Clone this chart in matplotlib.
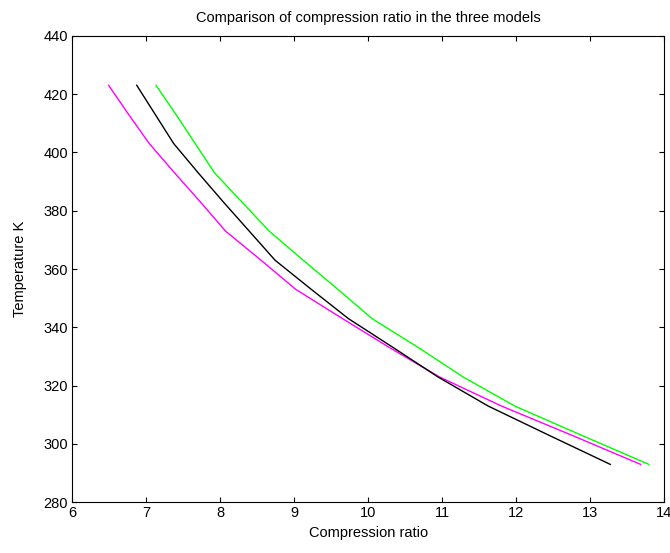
import matplotlib
matplotlib.use("Agg")
import matplotlib.pyplot as plt
import numpy as np

plt.rcParams['font.family'] = ['Liberation Sans', 'DejaVu Sans']

# temperature levels (K) and compression ratio for each model
temp = [423, 413, 403, 393, 383, 373, 363, 353, 343, 333, 323, 313, 303, 293]
cr_magenta = [6.49, 6.76, 7.04, 7.38, 7.73, 8.07, 8.55, 9.02, 9.65, 10.29, 10.96, 11.80, 12.75, 13.68]
cr_black = [6.87, 7.12, 7.37, 7.70, 8.04, 8.39, 8.74, 9.23, 9.73, 10.34, 10.94, 11.62, 12.44, 13.27]
cr_green = [7.13, 7.40, 7.66, 7.92, 8.29, 8.66, 9.12, 9.59, 10.05, 10.68, 11.28, 11.98, 12.88, 13.79]

xticks = [6, 7, 8, 9, 10, 11, 12, 13, 14]
yticks = [280, 300, 320, 340, 360, 380, 400, 420, 440]

fig = plt.figure(figsize=(6.70, 5.53), dpi=100)
ax = fig.add_axes([0.108, 0.0917, 0.8835, 0.8437])

ax.plot(cr_magenta, temp, color=(1, 0, 1), lw=1.0)
ax.plot(cr_black, temp, color='k', lw=1.0)
ax.plot(cr_green, temp, color=(0, 1, 0), lw=1.0)

ax.set_xlim(6, 14)
ax.set_ylim(280, 440)
ax.set_xticks(xticks)
ax.set_yticks(yticks)
ax.tick_params(direction='in', top=True, right=True, length=3.5, width=0.8,
               labelsize=10.5, pad=3)
for s in ax.spines.values():
    s.set_linewidth(0.8)

ax.set_title("Comparison of compression ratio in the three models", fontsize=10.5, pad=10)
ax.set_xlabel("Compression ratio", fontsize=10.5, labelpad=4)
ax.set_ylabel("Temperature K", fontsize=10.5, labelpad=12)

fig.savefig("out.png", dpi=100)
